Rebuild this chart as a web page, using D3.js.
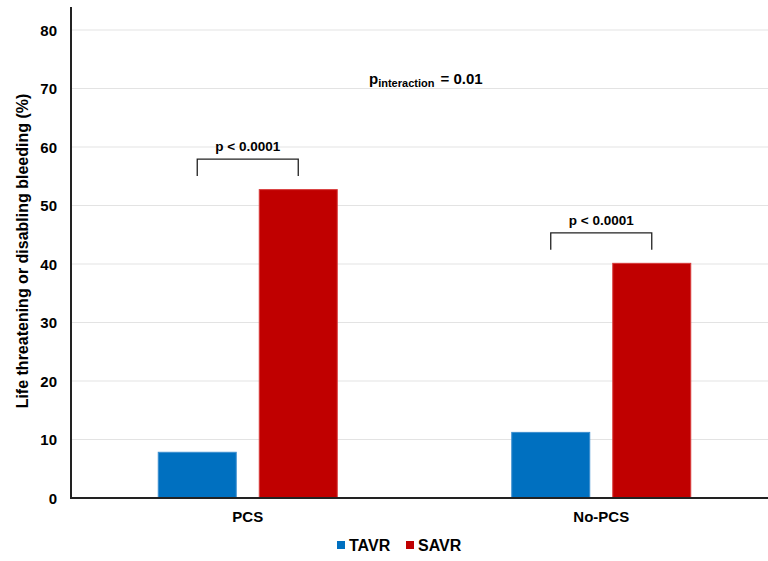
<!DOCTYPE html>
<html>
<head>
<meta charset="utf-8">
<script src="https://cdn.jsdelivr.net/npm/d3@7"></script>
<style>
  body { margin: 0; background: #fff; }
  text { font-family: "Liberation Sans", Arial, sans-serif; font-weight: bold; fill: #000; }
</style>
</head>
<body>
<div id="chart"></div>
<script>
const groups = ["PCS", "No-PCS"]
const series = ["TAVR", "SAVR"]
const tavr = [7.9, 11.3]
const savr = [52.8, 40.2]
const yTicks = [0, 10, 20, 30, 40, 50, 60, 70, 80]
const pLabels = ["p < 0.0001", "p < 0.0001"]
const colors = {TAVR: "#0070C0", SAVR: "#C00000"}
const edges = {TAVR: "#3d8fd0", SAVR: "#d83a3a"}

const width = 768, height = 561
const marginLeft = 71, plotBottom = 498, plotTop = 30

const svg = d3.select("#chart").append("svg")
  .attr("width", width)
  .attr("height", height)

let x = d3.scaleBand().domain(groups).range([marginLeft, marginLeft + 707])
let x1 = d3.scaleBand().domain(series).range([0, 180]).paddingInner(0.218)
let y = d3.scaleLinear().domain([0, 80]).range([plotBottom, plotTop])

// Gridlines
svg.append("g")
  .selectAll("line")
  .data(yTicks.filter(d => d > 0))
  .join("line")
  .attr("x1", marginLeft).attr("x2", width)
  .attr("y1", d => y(d)).attr("y2", d => y(d))
  .attr("stroke", "#e3e3e3")
  .attr("stroke-width", 1)

// Bars
let rows = groups.map((g, i) => ({group: g, values: [{s: "TAVR", v: tavr[i]}, {s: "SAVR", v: savr[i]}]}))
let offset = (x.bandwidth() - 180) / 2
svg.append("g")
  .selectAll("g")
  .data(rows)
  .join("g")
  .attr("transform", d => "translate(" + (x(d.group) + offset) + ",0)")
  .selectAll("rect")
  .data(d => d.values)
  .join("rect")
  .attr("x", d => x1(d.s) + 0.5)
  .attr("width", x1.bandwidth() - 1)
  .attr("y", d => y(d.v) + 0.5)
  .attr("height", d => y(0) - y(d.v))
  .attr("fill", d => colors[d.s])
  .attr("stroke", d => edges[d.s])
  .attr("stroke-width", 1)

// Y axis
let yAxis = d3.axisLeft(y).tickValues(yTicks).tickSize(0).tickPadding(14)
let gy = svg.append("g")
  .attr("transform", "translate(" + marginLeft + ",0)")
  .call(yAxis)
gy.select(".domain").remove()
gy.selectAll("text").style("font-size", "15px").attr("dy", "0.35em")
svg.append("line")
  .attr("x1", marginLeft).attr("x2", marginLeft)
  .attr("y1", 7).attr("y2", plotBottom + 1)
  .attr("stroke", "#222").attr("stroke-width", 2)

// X axis
let xAxis = d3.axisBottom(x).tickSize(0).tickPadding(13)
let gx = svg.append("g")
  .attr("transform", "translate(0," + plotBottom + ")")
  .call(xAxis)
gx.select(".domain").remove()
gx.selectAll("text").style("font-size", "15px")
svg.append("line")
  .attr("x1", marginLeft - 1).attr("x2", width)
  .attr("y1", plotBottom).attr("y2", plotBottom)
  .attr("stroke", "#222").attr("stroke-width", 2)

// Y label
svg.append("text")
  .attr("transform", "translate(28," + 251 + ") rotate(-90)")
  .attr("text-anchor", "middle")
  .style("font-size", "16px")
  .text("Life threatening or disabling bleeding (%)")

// Significance brackets
rows.forEach(function (d, i) {
  let x0 = x(d.group) + offset + x1("TAVR") + x1.bandwidth() / 2
  let x2 = x(d.group) + offset + x1("SAVR") + x1.bandwidth() / 2
  let yTop = y(d3.max(d.values, v => v.v)) - 30
  svg.append("path")
    .attr("d", "M" + x0 + "," + (yTop + 17) + "V" + yTop + "H" + x2 + "V" + (yTop + 17))
    .attr("fill", "none")
    .attr("stroke", "#222")
    .attr("stroke-width", 1.3)
  svg.append("text")
    .attr("x", (x0 + x2) / 2)
    .attr("y", yTop - 8)
    .attr("text-anchor", "middle")
    .style("font-size", "13.5px")
    .text(pLabels[i])
})

// Interaction p value
let pint = svg.append("text")
  .attr("x", 369)
  .attr("y", 84)
  .style("font-size", "15px")
pint.append("tspan").text("p")
pint.append("tspan").attr("dy", 3).style("font-size", "11px").text("interaction")
pint.append("tspan").attr("dy", -3).attr("dx", 2).text(" = 0.01")

// Legend
let legend = svg.append("g").attr("transform", "translate(337,541)")
let items = legend.selectAll("g")
  .data(series)
  .join("g")
  .attr("transform", (d, i) => "translate(" + (i * 69) + ",0)")
items.append("rect")
  .attr("width", 8).attr("height", 8)
  .attr("fill", d => colors[d])
items.append("text")
  .attr("x", 12).attr("y", 9.5)
  .style("font-size", "16px")
  .text(d => d)
</script>
</body>
</html>
